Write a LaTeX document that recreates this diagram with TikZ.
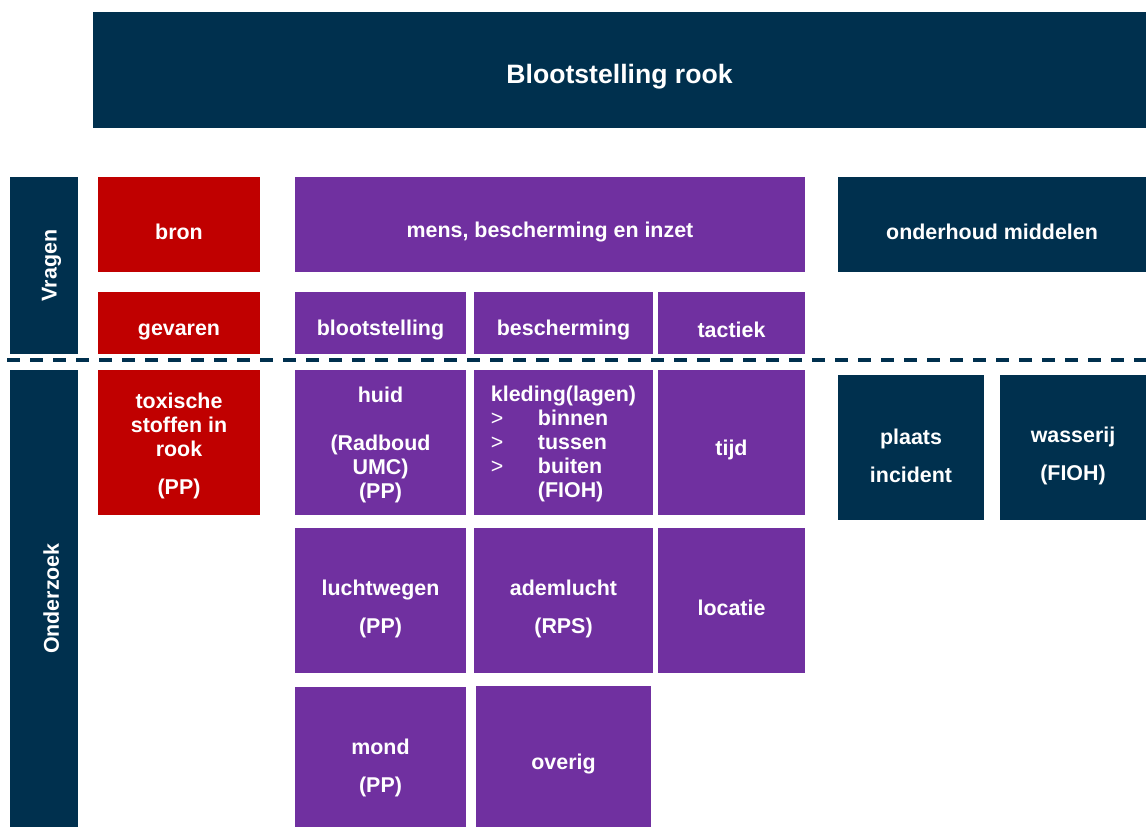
\documentclass[tikz,border=0pt]{standalone}
\usepackage{fontspec}
\setmainfont{Liberation Sans}
\usetikzlibrary{positioning}
\definecolor{donkerblauw}{HTML}{00304E}
\definecolor{rood}{HTML}{C00000}
\definecolor{paars}{HTML}{7030A0}
\newcommand{\pijl}{\makebox[23.5pt][l]{\mdseries >}}
\newcommand{\op}[1]{\rule{0pt}{#1}}

\begin{document}
\begin{tikzpicture}
	[x=0.5pt,y=-0.5pt,
	omlaag/.style={execute at begin node={\rule{0pt}{#1}}},
	vak/.style={rectangle,inner sep=0pt,outer sep=0pt,text=white,align=center,omlaag=15pt,font=\bfseries\fontsize{10.7}{12}\selectfont},
	maat/.style 2 args={minimum width=#1,minimum height=#2},
	blauw/.style={vak,fill=donkerblauw},
	rd/.style={vak,fill=rood},
	pr/.style={vak,fill=paars},
	scheiding/.style={draw=donkerblauw,line width=2pt,dash pattern=on 6.5pt off 5pt},
	]
	\useasboundingbox (0,0) rectangle (1146,827);
	% kop en zijbalken
	\node (titel) [blauw,maat={526.5pt}{58pt},anchor=north west,omlaag=16pt,font=\bfseries\fontsize{13.3}{16}\selectfont] at (93,12) {Blootstelling rook};
	\node (vragen) [blauw,rotate=90,maat={88.5pt}{34pt},omlaag=0pt] at (44,265.5) {Vragen};
	\node (onderzoek) [blauw,rotate=90,maat={228.5pt}{34pt},omlaag=0pt] at (44,598.5) {Onderzoek};
	% vragen
	\node (bron) [rd,maat={81pt}{47.5pt},anchor=north west] at (98,177) {bron};
	\node (gevaren) [rd,maat={81pt}{31pt},below=10pt of bron] {gevaren};
	\node (mens) [pr,maat={255pt}{47.5pt},anchor=north west] at (295,177) {mens, bescherming en inzet};
	\node (onderhoud) [blauw,maat={154pt}{47.5pt},right=16.5pt of mens] {onderhoud middelen};
	\node (blootst) [pr,maat={85.5pt}{31pt},anchor=north west] at (295,292) {blootstelling};
	\node (bescherm) [pr,maat={89.5pt}{31pt},right=4pt of blootst] {bescherming};
	\node (tactiek) [pr,maat={73.5pt}{31pt},right=2.5pt of bescherm] {tactiek};
	% scheidingslijn
	\coordinate (lijnL) at (7,360);
	\coordinate (lijnR) at (1146,360);
	\draw[scheiding] (lijnL) -- (lijnR);
	% onderzoek
	\node (toxisch) [rd,maat={81pt}{72.5pt},anchor=north west] at (98,370) {\op{10.8pt}toxische\\stoffen in\\rook\\[7pt](PP)};
	\node (huid) [pr,maat={85.5pt}{72.5pt},right=17.5pt of toxisch] {\op{9.8pt}huid\\[12pt](Radboud\\UMC)\\(PP)};
	\node (kleding) [pr,maat={89.5pt}{72.5pt},right=4pt of huid,align=left] {\op{9.3pt}kleding(lagen)\\\pijl binnen\\\pijl tussen\\\pijl buiten\\\hspace*{23.5pt}(FIOH)};
	\node (tijd) [pr,maat={73.5pt}{72.5pt},right=2.5pt of kleding] {tijd};
	\node (plaats) [blauw,maat={73pt}{72.5pt},anchor=north west] at (838,375) {\op{16pt}plaats\\[7pt]incident};
	\node (wasserij) [blauw,maat={73pt}{72.5pt},right=8pt of plaats] {\op{16pt}wasserij\\[7pt](FIOH)};
	\node (lucht) [pr,maat={85.5pt}{72.5pt},below=6.5pt of huid] {\op{16pt}luchtwegen\\[7pt](PP)};
	\node (adem) [pr,maat={89.5pt}{72.5pt},below=6.5pt of kleding] {\op{16.5pt}ademlucht\\[7pt](RPS)};
	\node (locatie) [pr,maat={73.5pt}{72.5pt},below=6.5pt of tijd] {locatie};
	\node (mond) [pr,maat={85.5pt}{70pt},below=7pt of lucht] {\op{19pt}mond\\[7pt](PP)};
	\node (overig) [pr,maat={87.5pt}{70.5pt},below=6.5pt of adem] {overig};
\end{tikzpicture}
\end{document}
